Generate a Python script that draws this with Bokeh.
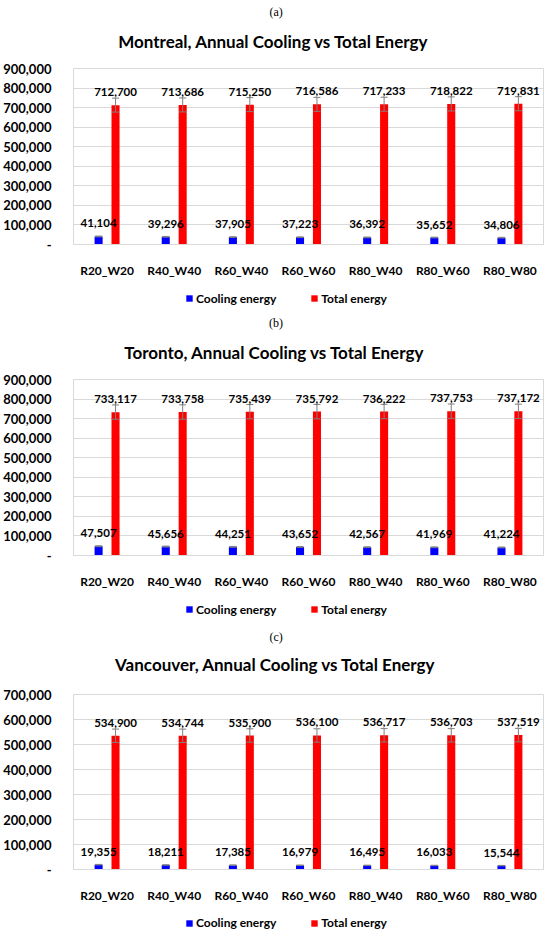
from bokeh.plotting import figure
from bokeh.models import (FactorRange, Range1d, FixedTicker, NumeralTickFormatter,
                          Label, Legend, LegendItem, ColumnDataSource)
from bokeh.transform import dodge
from bokeh.core.properties import value
from bokeh.layouts import column
from bokeh.embed import file_html
from bokeh.resources import INLINE

categories = ["R20_W20", "R40_W40", "R60_W40", "R60_W60", "R80_W40", "R80_W60", "R80_W80"]

montreal_cooling = [41104, 39296, 37905, 37223, 36392, 35652, 34806]
montreal_total = [712700, 713686, 715250, 716586, 717233, 718822, 719831]

toronto_cooling = [47507, 45656, 44251, 43652, 42567, 41969, 41224]
toronto_total = [733117, 733758, 735439, 735792, 736222, 737753, 737172]

vancouver_cooling = [19355, 18211, 17385, 16979, 16495, 16033, 15544]
vancouver_total = [534900, 534744, 535900, 536100, 536717, 536703, 537519]

ticks_900k = [0, 100000, 200000, 300000, 400000, 500000, 600000, 700000, 800000, 900000]
ticks_700k = [0, 100000, 200000, 300000, 400000, 500000, 600000, 700000]

error_fraction = 0.05

series_names = ["Cooling energy", "Total energy"]
panel_letters = ["(a)", "(b)", "(c)"]
panel_titles = ["Montreal, Annual Cooling vs Total Energy",
                "Toronto, Annual Cooling vs Total Energy",
                "Vancouver, Annual Cooling vs Total Energy"]

FONT = "Lato"
BLUE = "#0000ff"
RED = "#ff0000"
GRID = "#d9d9d9"
ERR = "#7f7f7f"
W = 550
FRAME_LEFT = 72
FRAME_RIGHT_BORDER = 7
FRAME_W = W - FRAME_LEFT - FRAME_RIGHT_BORDER


def make_source(cooling, total):
    return ColumnDataSource(dict(
        cat=categories,
        cooling=cooling,
        total=total,
        cool_hi=[v * (1 + error_fraction) for v in cooling],
        cool_lo=[v * (1 - error_fraction) for v in cooling],
        total_hi=[v * (1 + error_fraction) for v in total],
        total_lo=[v * (1 - error_fraction) for v in total],
        cool_lbl=[f"{v:,}" for v in cooling],
        total_lbl=[f"{v:,}" for v in total],
    ))


def strip(height):
    f = figure(width=W, height=height, x_range=Range1d(0, FRAME_W), y_range=Range1d(0, height),
               x_axis_location=None, y_axis_location=None, output_backend="svg",
               toolbar_location=None, min_border=0,
               min_border_left=FRAME_LEFT, min_border_right=FRAME_RIGHT_BORDER)
    f.outline_line_color = None
    f.grid.grid_line_color = None
    f.background_fill_color = "white"
    f.border_fill_color = "white"
    return f


def make_header(letter, title_text, height, letter_y, title_x, title_y):
    h = strip(height)
    h.add_layout(Label(x=203, y=height - letter_y, text=letter, text_align="center",
                       text_baseline="middle", text_font="Liberation Serif",
                       text_font_size="12px", text_color="black"))
    h.add_layout(Label(x=title_x - FRAME_LEFT, y=height - title_y, text=title_text,
                       text_align="center", text_baseline="middle", text_font=FONT,
                       text_font_style="bold", text_font_size="17px", text_color="black"))
    return h


def make_chart(src, ticks, height):
    frame_top = 10
    frame_h = 178
    p = figure(x_range=FactorRange(*categories, range_padding=0),
               y_range=Range1d(0, ticks[-1]),
               width=W, height=height,
               output_backend="svg", toolbar_location=None,
               min_border_left=FRAME_LEFT, min_border_right=FRAME_RIGHT_BORDER,
               min_border_top=frame_top, min_border_bottom=height - frame_top - frame_h)
    p.background_fill_color = "white"
    p.border_fill_color = "white"
    p.outline_line_color = GRID
    p.xgrid.grid_line_color = None
    p.ygrid.grid_line_color = GRID
    p.ygrid.ticker = FixedTicker(ticks=ticks)

    yax = p.yaxis[0]
    yax.ticker = FixedTicker(ticks=ticks)
    yax.formatter = NumeralTickFormatter(format="0,0")
    yax.major_label_overrides = {0: "-"}
    yax.axis_line_color = None
    yax.major_tick_line_color = None
    yax.minor_tick_line_color = None
    yax.major_label_standoff = 16
    yax.major_label_text_font = FONT
    yax.major_label_text_font_style = "bold"
    yax.major_label_text_font_size = "13px"
    yax.major_label_text_color = "black"

    xax = p.xaxis[0]
    xax.axis_line_color = GRID
    xax.major_tick_line_color = None
    xax.minor_tick_line_color = None
    xax.major_label_standoff = 12
    xax.major_label_text_font = FONT
    xax.major_label_text_font_style = "bold"
    xax.major_label_text_font_size = "12px"
    xax.major_label_text_color = "black"

    off = 0.126
    bw = 0.12
    xb = dodge("cat", -off, range=p.x_range)
    xr = dodge("cat", off, range=p.x_range)

    p.vbar(x=xb, top="cooling", width=bw, source=src, fill_color=BLUE, line_color=None)
    p.vbar(x=xr, top="total", width=bw, source=src, fill_color=RED, line_color=None)

    for xx, lo, hi in ((xb, "cool_lo", "cool_hi"), (xr, "total_lo", "total_hi")):
        p.segment(x0=xx, y0=lo, x1=xx, y1=hi, source=src, line_color=ERR, line_width=1)
        p.scatter(x=xx, y=lo, source=src, marker="dash", size=7, line_color=ERR, line_width=1)
        p.scatter(x=xx, y=hi, source=src, marker="dash", size=7, line_color=ERR, line_width=1)

    for xx, yy, lbl in ((xb, "cooling", "cool_lbl"), (xr, "total", "total_lbl")):
        p.text(x=xx, y=yy, text=lbl, source=src, text_font=value(FONT), text_font_style="bold",
               text_font_size="11.5px", text_align="center", text_baseline="middle",
               y_offset=-13, text_color="black")
    return p


def make_legend(src, height, center_from_top):
    # strip below the chart; the proxy bars lie below the visible y range
    lf = figure(width=W, height=height, x_range=FactorRange(*categories, range_padding=0),
                y_range=Range1d(1.0e6, 1.1e6),
                x_axis_location=None, y_axis_location=None, output_backend="svg",
                toolbar_location=None, min_border=0,
                min_border_left=FRAME_LEFT, min_border_right=FRAME_RIGHT_BORDER)
    lf.outline_line_color = None
    lf.grid.grid_line_color = None
    lf.background_fill_color = "white"
    lf.border_fill_color = "white"
    r_cool = lf.vbar(x="cat", top="cooling", width=0.1, source=src, fill_color=BLUE, line_color=None)
    r_tot = lf.vbar(x="cat", top="total", width=0.1, source=src, fill_color=RED, line_color=None)
    pad = 2
    box_h = 14 + 2 * pad
    legend = Legend(items=[LegendItem(label=series_names[0], renderers=[r_cool]),
                           LegendItem(label=series_names[1], renderers=[r_tot])],
                    orientation="horizontal",
                    location=(186 - pad - FRAME_LEFT, height - (center_from_top - 7 - pad) - box_h),
                    margin=0, padding=pad, spacing=34,
                    glyph_width=8, glyph_height=8, label_standoff=3, label_height=14,
                    label_text_font=FONT, label_text_font_style="bold",
                    label_text_font_size="12px", label_text_color="black",
                    border_line_color=None, background_fill_color=None)
    lf.add_layout(legend, "center")
    return lf


s1 = make_source(montreal_cooling, montreal_total)
s2 = make_source(toronto_cooling, toronto_total)
s3 = make_source(vancouver_cooling, vancouver_total)

h1 = make_header(panel_letters[0], panel_titles[0], 58, 11, 272.5, 41)
c1 = make_chart(s1, ticks_900k, 222)
l1 = make_legend(s1, 31, 16.5)

h2 = make_header(panel_letters[1], panel_titles[1], 58, 11, 273.5, 41)
c2 = make_chart(s2, ticks_900k, 222)
l2 = make_legend(s2, 31, 16.5)

h3 = make_header(panel_letters[2], panel_titles[2], 62, 14, 274.5, 42)
c3 = make_chart(s3, ticks_700k, 221)
l3 = make_legend(s3, 26, 16)

page = column(h1, c1, l1, h2, c2, l2, h3, c3, l3, spacing=0)
open("out.html", "w").write(file_html(page, INLINE))
